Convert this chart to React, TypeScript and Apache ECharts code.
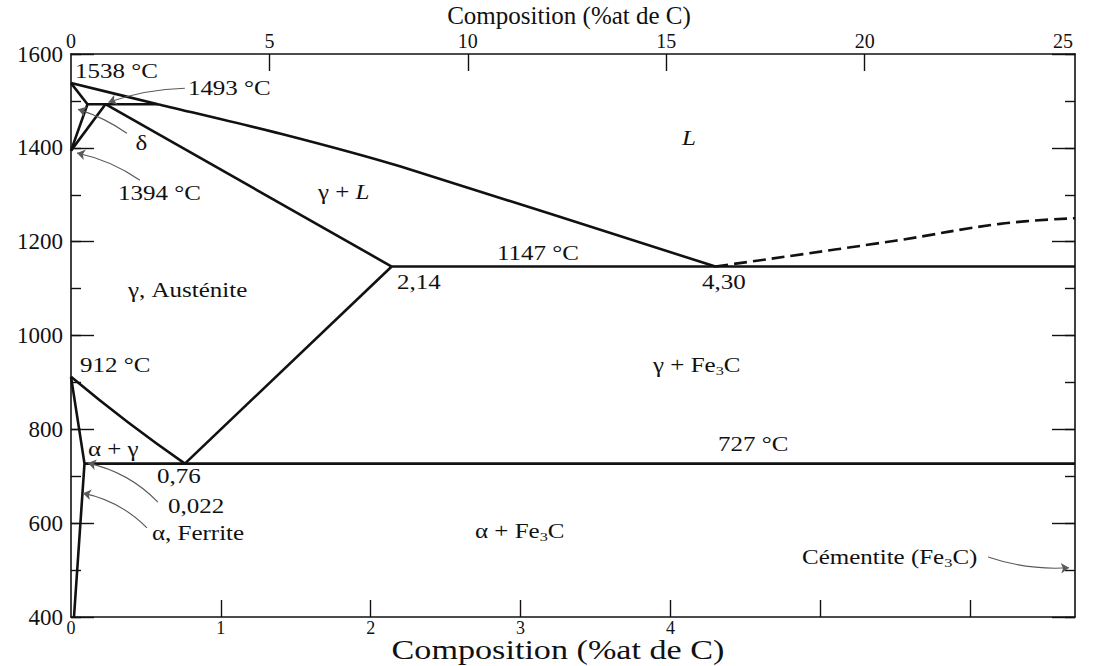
import React, { useEffect, useRef } from "react";
import * as echarts from "echarts";

const FONT = "'Liberation Serif', 'Times New Roman', Times, serif";
const INK = "#111111";
const GREY = "#5a5a5a";

// ---- axes ----
const tempMin = 400;
const tempMax = 1600;
const tempInterval = 200;
const tempMinorInterval = 100;
const wtMin = 0;
const wtMax = 6.7;
const wtTickValues = [1, 2, 3, 4, 5, 6];
const wtLabelValues = [0, 1, 2, 3, 4];
const atMin = 0;
const atMax = 25.3;
const atTickValues = [5, 10, 15, 20];
const atLabelValues = [0, 5, 10, 15, 20, 25];

// ---- phase boundaries (wt% C, °C) ----
const liquidus = [[0, 1538], [0.58, 1493], [1.4, 1430], [2.2, 1360], [4.3, 1147]];
const deltaSolidus = [[0, 1538], [0.11, 1493], [0, 1394]];
const peritectic = [[0.11, 1493], [0.58, 1493]];
const deltaGamma = [[0.23, 1493], [0, 1394]];
const gammaSolidus = [[0.23, 1493], [2.14, 1147]];
const eutectic = [[2.14, 1147], [6.7, 1147]];
const acmLine = [[0.76, 727], [2.14, 1147]];
const a3Line = [[0, 912], [0.38, 815], [0.76, 727]];
const alphaBoundary = [[0, 912], [0.09, 727], [0.02, 400]];
const eutectoid = [[0.09, 727], [6.7, 727]];
const cementiteLiquidus = [[4.3, 1147], [5.5, 1202], [6.2, 1238], [6.7, 1250]];

// ---- annotations (left edge, vertical middle), data coords ----
const annotations = [
  { text: "{n|1538 °C}", at: [0.027, 1564] },
  { text: "{n|1493 °C}", at: [0.78, 1526] },
  { text: "{n|δ}", at: [0.43, 1410] },
  { text: "{n|1394 °C}", at: [0.314, 1303] },
  { text: "{n|γ + }{i|L}", at: [1.648, 1304] },
  { text: "{i|L}", at: [4.078, 1421] },
  { text: "{n|1147 °C}", at: [2.843, 1175] },
  { text: "{n|2,14}", at: [2.175, 1113] },
  { text: "{n|4,30}", at: [4.211, 1113] },
  { text: "{n|γ, Austénite}", at: [0.38, 1097] },
  { text: "{n|912 °C}", at: [0.06, 937] },
  { text: "{n|γ + Fe}{s|3}{n|C}", at: [3.884, 937] },
  { text: "{n|727 °C}", at: [4.318, 767] },
  { text: "{n|α + γ}", at: [0.113, 758] },
  { text: "{n|0,76}", at: [0.574, 700] },
  { text: "{n|0,022}", at: [0.647, 636] },
  { text: "{n|α, Ferrite}", at: [0.54, 578] },
  { text: "{n|α + Fe}{s|3}{n|C}", at: [2.696, 583] },
  { text: "{n|Cémentite (Fe}{s|3}{n|C)}", at: [4.878, 528] },
];

const arrows = [
  { from: [0.76, 1527], to: [0.25, 1497], curve: -0.08 },
  { from: [0.373, 1431], to: [0.047, 1482], curve: -0.08 },
  { from: [0.46, 1331], to: [0.04, 1389], curve: -0.1 },
  { from: [0.58, 645], to: [0.113, 728], curve: -0.15 },
  { from: [0.507, 590], to: [0.08, 664], curve: -0.15 },
  { from: [6.12, 528], to: [6.66, 505], curve: -0.1 },
];

const topTitle = "Composition (%at de C)";
const bottomTitle = "Composition (%at de C)";

const RICH = {
  n: { fontSize: 20, fontFamily: FONT, fill: INK, color: INK, lineHeight: 24 },
  i: { fontSize: 20, fontFamily: FONT, fontStyle: "italic", fill: INK, color: INK, lineHeight: 24 },
  s: { fontSize: 13, fontFamily: FONT, fill: INK, color: INK, lineHeight: 13, verticalAlign: "bottom" },
};

const solid = (data: number[][], smooth: number | boolean = false) => ({
  type: "line",
  data,
  symbol: "none",
  showSymbol: false,
  smooth,
  silent: true,
  xAxisIndex: 0,
  yAxisIndex: 0,
  lineStyle: { color: INK, width: 2.6 },
  z: 3,
});

const axisLineStyle = { color: INK, width: 1.6 };
const tickStyle = { color: INK, width: 1.4 };

const tempAxis = (position: string, interval: number, tickLen: number, main: boolean, labels: boolean) => ({
  type: "value",
  position,
  min: tempMin,
  max: tempMax,
  interval,
  axisLine: { show: main, onZero: false, lineStyle: axisLineStyle },
  axisTick: { show: true, inside: true, length: tickLen, lineStyle: tickStyle },
  axisLabel: labels
    ? { show: true, fontFamily: FONT, fontSize: 23, color: INK, margin: 8, formatter: (v: number) => String(v) }
    : { show: false },
  splitLine: { show: false },
});

export default function App() {
  const ref = useRef<HTMLDivElement>(null);
  useEffect(() => {
    const chart = echarts.init(ref.current as HTMLDivElement, null, { renderer: "svg" });
    const option: any = {
      animation: false,
      backgroundColor: "#ffffff",
      grid: { left: 71, right: 19, top: 54, bottom: 49, containLabel: false },
      xAxis: [
        {
          type: "value",
          position: "bottom",
          min: wtMin,
          max: wtMax,
          axisLine: { show: true, onZero: false, lineStyle: axisLineStyle },
          axisTick: { show: true, inside: true, length: 17, customValues: wtTickValues, lineStyle: tickStyle },
          axisLabel: { customValues: wtLabelValues, fontFamily: FONT, fontSize: 18, color: INK, margin: 2 },
          splitLine: { show: false },
        },
        {
          type: "value",
          position: "top",
          min: atMin,
          max: atMax,
          axisLine: { show: true, onZero: false, lineStyle: axisLineStyle },
          axisTick: { show: true, inside: true, length: 17, customValues: atTickValues, lineStyle: tickStyle },
          axisLabel: { customValues: atLabelValues, fontFamily: FONT, fontSize: 20, color: INK, margin: 3 },
          splitLine: { show: false },
        },
      ],
      yAxis: [
        tempAxis("left", tempInterval, 23, true, true),
        tempAxis("left", tempMinorInterval, 10, false, false),
        tempAxis("right", tempInterval, 23, true, false),
        tempAxis("right", tempMinorInterval, 10, false, false),
      ],
      series: [
        solid(liquidus, 0.2),
        solid(deltaSolidus),
        solid(peritectic),
        solid(deltaGamma),
        solid(gammaSolidus),
        solid(eutectic),
        solid(acmLine),
        solid(a3Line, true),
        solid(alphaBoundary),
        solid(eutectoid),
        {
          ...solid(cementiteLiquidus, 0.4),
          lineStyle: { color: INK, width: 2.6, type: [13, 6] },
        },
        {
          type: "lines",
          coordinateSystem: "cartesian2d",
          xAxisIndex: 0,
          yAxisIndex: 0,
          silent: true,
          symbol: ["none", "arrow"],
          symbolSize: 8,
          lineStyle: { color: GREY, width: 1.1, opacity: 1 },
          data: arrows.map((a) => ({ coords: [a.from, a.to], lineStyle: { curveness: a.curve } })),
          z: 4,
        },
      ],
    };
    chart.setOption(option);

    const graphics: any[] = annotations.map((a) => {
      const p = chart.convertToPixel({ xAxisIndex: 0, yAxisIndex: 0 }, a.at) as number[];
      return {
        type: "text",
        x: p[0],
        y: p[1],
        scaleX: 1.25,
        silent: true,
        z: 10,
        style: {
          text: a.text,
          rich: RICH,
          fontFamily: FONT,
          fontSize: 20,
          fill: INK,
          align: "left",
          verticalAlign: "middle",
          textAlign: "left",
          textVerticalAlign: "middle",
        },
      };
    });
    graphics.push({
      type: "text",
      x: 569,
      y: 15,
      silent: true,
      style: {
        text: topTitle,
        fontFamily: FONT,
        fontSize: 25,
        fill: INK,
        align: "center",
        verticalAlign: "middle",
        textAlign: "center",
        textVerticalAlign: "middle",
      },
    });
    graphics.push({
      type: "text",
      x: 558,
      y: 650,
      scaleX: 1.22,
      silent: true,
      style: {
        text: bottomTitle,
        fontFamily: FONT,
        fontSize: 28,
        fill: INK,
        align: "center",
        verticalAlign: "middle",
        textAlign: "center",
        textVerticalAlign: "middle",
      },
    });
    chart.setOption({ graphic: graphics });

    return () => chart.dispose();
  }, []);

  return (
    <div
      ref={ref}
      style={{ position: "absolute", left: 0, top: 0, width: 1094, height: 666, background: "#fff" }}
    />
  );
}
